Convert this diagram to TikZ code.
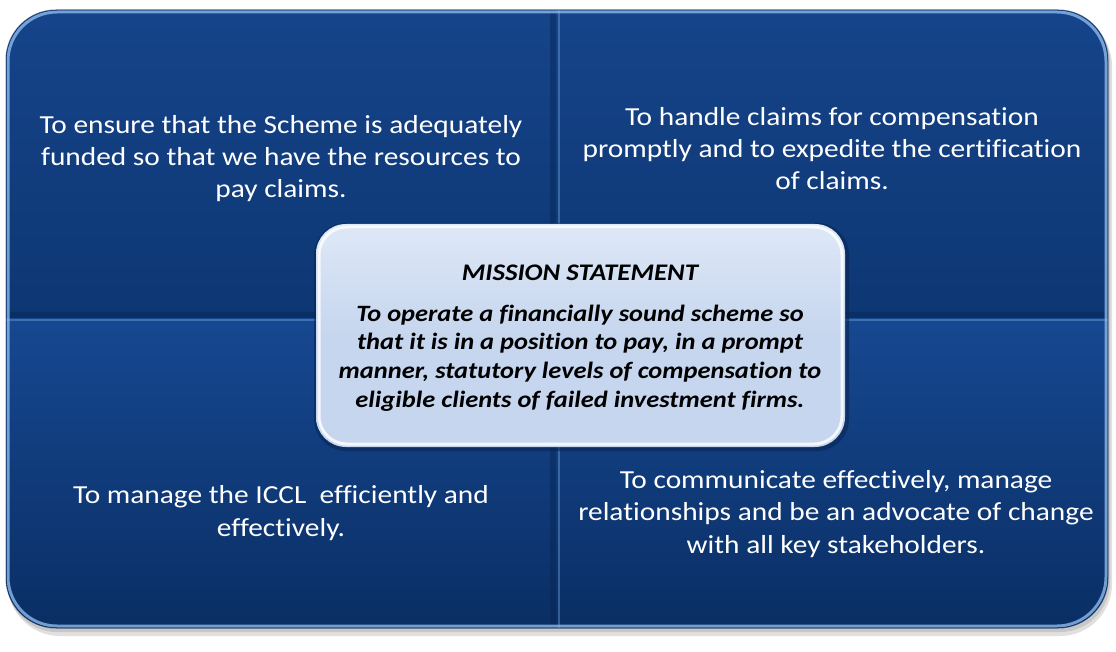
\documentclass[tikz,border=0pt]{standalone}
\usepackage{fontspec}
\setmainfont{Carlito}[FakeStretch=1.13, Ligatures=NoCommon]
\definecolor{qtopA}{RGB}{22,68,138}
\definecolor{qbotA}{RGB}{13,55,115}
\definecolor{qtopB}{RGB}{22,72,145}
\definecolor{qbotB}{RGB}{10,46,100}
\definecolor{hilite}{RGB}{140,185,235}
\definecolor{seam}{RGB}{8,38,85}
\definecolor{boxfill}{RGB}{198,214,238}
\definecolor{boxtop}{RGB}{222,232,247}
\tikzset{
  quadtext/.style={text=white, align=center, font=\fontsize{26}{32.3}\selectfont},
  titletext/.style={text=black, align=center, font=\fontsize{23.8}{28}\selectfont\bfseries\itshape},
  bodytext/.style={text=black, align=center, font=\fontsize{23.4}{28.7}\selectfont\bfseries\itshape},
}
\begin{document}
\begin{tikzpicture}[x=1pt,y=-1pt]
\useasboundingbox[fill=white] (0,0) rectangle (1116,652);
% drop shadow
\fill[black!12, rounded corners=52pt] (8,14) rectangle (1112,636);
\fill[black!22, rounded corners=50pt] (7,12) rectangle (1110,632);
% quadrants
\begin{scope}
\clip[rounded corners=50pt] (6,10) rectangle (1108,628);
\shade[top color=qtopA, bottom color=qbotA] (6,10) rectangle (556,318);
\shade[top color=qtopA, bottom color=qbotA] (556,10) rectangle (1108,318);
\shade[top color=qtopB, bottom color=qbotB] (6,318) rectangle (556,628);
\shade[top color=qtopB, bottom color=qbotB] (556,318) rectangle (1108,628);
% bevel seams
\draw[seam, line width=6pt, opacity=0.45] (553,10) -- (553,628);
\draw[hilite, line width=2pt, opacity=0.35] (559,10) -- (559,628);
\draw[seam, line width=6pt, opacity=0.45] (6,315) -- (1108,315);
\draw[hilite, line width=1.5pt, opacity=0.35] (6,320) -- (1108,320);
\end{scope}
% outer bevel highlight
\draw[hilite, line width=3pt, opacity=0.8, rounded corners=49pt] (8,12) rectangle (1106,626);
\draw[seam, line width=1pt, opacity=0.6, rounded corners=50pt] (6,10) rectangle (1108,628);
% centre box
\fill[seam, opacity=0.6, rounded corners=32pt] (314,223) rectangle (849,451);
\shade[top color=boxtop, bottom color=boxfill, middle color=boxfill, rounded corners=30pt] (316,224) rectangle (845,447);
\draw[white, line width=3pt, opacity=0.8, rounded corners=28pt] (319,227) rectangle (842,444);
% texts
\node[quadtext] (tl) at (281,158.5) {To ensure that the Scheme is adequately\\funded so that we have the resources to\\pay claims.};
\node[quadtext] (tr) at (832,148.5) {To handle claims for compensation\\promptly and to expedite the certification\\of claims.};
\node[quadtext] (bl) at (281,513) {To manage the ICCL\ \ efficiently and\\effectively.};
\node[quadtext] (br) at (836,514) {To communicate effectively, manage\\relationships and be an advocate of change\\with all key stakeholders.};
\node[titletext] (title) at (580,273) {MISSION STATEMENT};
\node[bodytext] (body) at (580,358) {To operate a financially sound scheme so\\that it is in a position to pay, in a prompt\\manner, statutory levels of compensation to\\eligible clients of failed investment firms.};
\end{tikzpicture}
\end{document}
